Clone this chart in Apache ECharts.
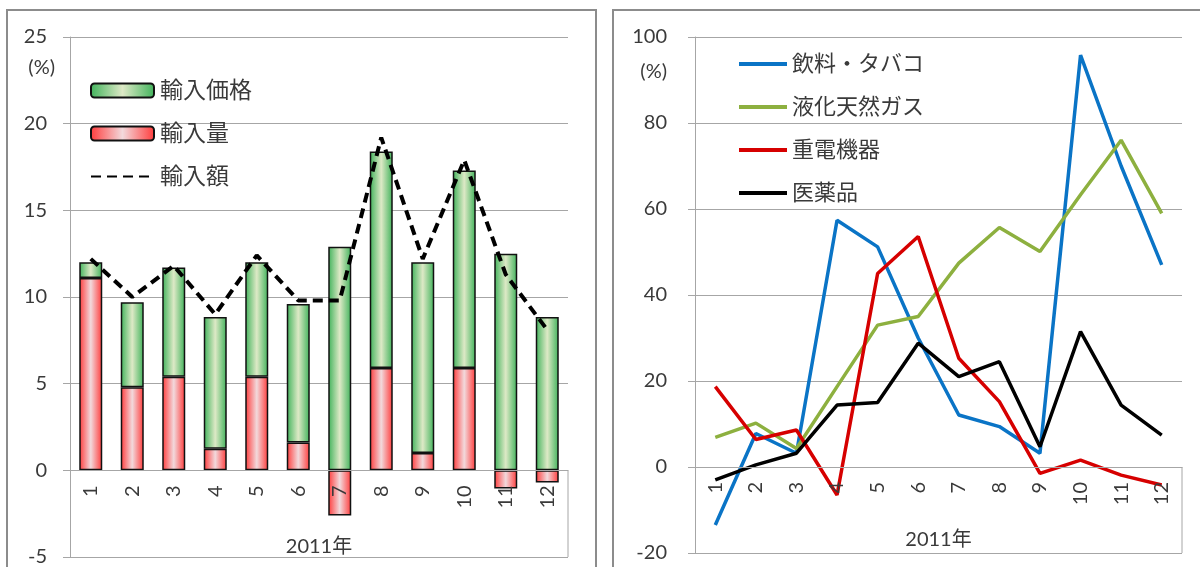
<!DOCTYPE html>
<html>
<head>
<meta charset="utf-8">
<script src="https://cdn.jsdelivr.net/npm/echarts@6/dist/echarts.min.js"></script>
<style>
  html, body { margin: 0; padding: 0; background: #fff; }
  #chart { width: 1200px; height: 567px; }
</style>
</head>
<body>
<div id="chart"></div>
<script>
// categories (months of 2011)
const months = ['1', '2', '3', '4', '5', '6', '7', '8', '9', '10', '11', '12']

// left panel: contributions to import growth (%)
const importVolume = [11.1, 4.8, 5.4, 1.25, 5.4, 1.6, -2.6, 5.9, 1.0, 5.9, -1.05, -0.7]
const importPrice = [0.9, 4.9, 6.3, 7.6, 6.6, 8.0, 12.9, 12.5, 11.0, 11.4, 12.5, 8.85]
const importValue = [12.2, 10.0, 11.8, 9.0, 12.4, 9.8, 9.8, 19.2, 12.2, 17.9, 11.3, 8.1]

// right panel: growth by item (%)
const beverageTobacco = [-13.5, 7.8, 3.2, 57.4, 51.2, 30.0, 12.1, 9.4, 3.2, 95.8, 70.0, 47.0]
const lng = [6.9, 10.2, 4.3, 18.7, 33.0, 35.0, 47.4, 55.7, 50.1, 63.3, 76.0, 59.0]
const heavyElectric = [18.7, 6.4, 8.6, -6.5, 45.0, 53.6, 25.3, 15.2, -1.5, 1.6, -1.9, -4.2]
const pharma = [-3.0, 0.5, 3.2, 14.4, 15.0, 28.8, 21.0, 24.5, 4.7, 31.5, 14.4, 7.4]

// value axis ranges
const leftRange = { min: -5, max: 25, interval: 5 }
const rightRange = { min: -20, max: 100, interval: 20 }

const FONT = "Lato, 'Noto Sans CJK JP', sans-serif"
const TEXT = '#3a3a3a'
const GRID_LINE = '#a6a6a6'
const H = 567

const leftGrid = { left: 70, right: 632, top: 37, bottom: 10, outerBoundsMode: 'none', containLabel: false }
const rightGrid = { left: 695, right: 18, top: 37, bottom: 14, outerBoundsMode: 'none', containLabel: false }

// horizontal shaded fills like the Excel bars
function barFill(edge, mid) {
  return new echarts.graphic.LinearGradient(0, 0, 1, 0, [
    { offset: 0, color: edge },
    { offset: 0.5, color: mid },
    { offset: 1, color: edge }
  ])
}
const greenFill = barFill('#3fb25a', '#dde9c6')
const redFill = barFill('#ff3a3a', '#f2d9dc')

// the month axis sits on the zero line; move it up from the bottom by hand
function zeroOffset(grid, range) {
  const h = H - grid.top - grid.bottom
  return -((0 - range.min) / (range.max - range.min)) * h
}

function catAxis(gridIndex, grid, range, gap) {
  return {
    type: 'category',
    gridIndex,
    data: months,
    z: 5,
    offset: zeroOffset(grid, range),
    name: '2011年',
    nameLocation: 'middle',
    nameGap: gap,
    nameTextStyle: { fontSize: 20, color: TEXT, verticalAlign: 'middle' },
    axisLine: { onZero: false, lineStyle: { color: GRID_LINE, width: 1 } },
    axisTick: { length: 43, lineStyle: { color: GRID_LINE } },
    axisLabel: { rotate: 90, margin: 15, fontSize: 20, color: TEXT }
  }
}

function valAxis(gridIndex, range, nameGap, namePad, labelMargin) {
  return {
    type: 'value',
    gridIndex,
    min: range.min, max: range.max, interval: range.interval,
    name: '(%)',
    nameLocation: 'end',
    nameGap,
    nameTextStyle: { fontSize: 20, color: TEXT, align: 'right', verticalAlign: 'middle', padding: [0, namePad, 0, 0] },
    axisLine: { show: true, lineStyle: { color: GRID_LINE } },
    axisTick: { show: true, length: 7, lineStyle: { color: GRID_LINE } },
    axisLabel: { fontSize: 20, color: TEXT, margin: labelMargin },
    splitLine: { lineStyle: { color: GRID_LINE, width: 1 } }
  }
}

function itemLine(name, data, color) {
  return {
    name, type: 'line', xAxisIndex: 1, yAxisIndex: 1, data,
    symbol: 'none',
    lineStyle: { color, width: 3.5 },
    itemStyle: { color, opacity: 0 }
  }
}

const chart = echarts.init(document.getElementById('chart'))

const option = {
  animation: false,
  textStyle: { fontFamily: FONT },
  grid: [leftGrid, rightGrid],
  xAxis: [catAxis(0, leftGrid, leftRange, 76), catAxis(1, rightGrid, rightRange, 73)],
  yAxis: [
    valAxis(0, leftRange, -31, 15, 23),
    valAxis(1, rightRange, -35, 28, 28)
  ],
  legend: [
    {
      orient: 'vertical', left: 90, top: 79, padding: 0,
      itemWidth: 63, itemHeight: 14, itemGap: 20,
      data: ['輸入価格', '輸入量', '輸入額'],
      textStyle: { fontSize: 23, color: TEXT, padding: [0, 0, 0, 1] }
    },
    {
      orient: 'vertical', left: 737, top: 53, padding: 0,
      itemWidth: 48, itemHeight: 14, itemGap: 21,
      data: ['飲料・タバコ', '液化天然ガス', '重電機器', '医薬品'],
      lineStyle: { width: 4 },
      textStyle: { fontSize: 22, color: TEXT, padding: [0, 0, 0, 0] }
    }
  ],
  series: [
    {
      name: '輸入量', type: 'bar', stack: 'imp', data: importVolume,
      barWidth: 23,
      itemStyle: { color: redFill, borderColor: '#111', borderWidth: 1.5 }
    },
    {
      name: '輸入価格', type: 'bar', stack: 'imp', data: importPrice,
      barWidth: 23,
      itemStyle: { color: greenFill, borderColor: '#111', borderWidth: 1.5 }
    },
    {
      name: '輸入額', type: 'line', data: importValue, z: 6,
      symbol: 'none',
      lineStyle: { color: '#000', width: 4, type: [10, 6] },
      itemStyle: { color: '#000', opacity: 0 }
    },
    itemLine('飲料・タバコ', beverageTobacco, '#0a74c6'),
    itemLine('液化天然ガス', lng, '#8db03f'),
    itemLine('重電機器', heavyElectric, '#d60000'),
    itemLine('医薬品', pharma, '#000000')
  ]
}
chart.setOption(option)

// panel frames and the right edge of each month table
function tableEdge(grid, axisIndex, bottomVal) {
  const x = chart.getWidth() - grid.right
  const y0 = chart.convertToPixel({ yAxisIndex: axisIndex }, 0)
  const y1 = chart.convertToPixel({ yAxisIndex: axisIndex }, bottomVal)
  return { type: 'line', shape: { x1: x, y1: y0, x2: x, y2: y1 }, style: { stroke: GRID_LINE, lineWidth: 1 } }
}
chart.setOption({
  graphic: [
    { type: 'rect', shape: { x: 7, y: 10, width: 589, height: 570 }, style: { fill: 'none', stroke: '#8c8c8c', lineWidth: 2 }, z: -1 },
    { type: 'rect', shape: { x: 613, y: 10, width: 600, height: 570 }, style: { fill: 'none', stroke: '#8c8c8c', lineWidth: 2 }, z: -1 },
    tableEdge(leftGrid, 0, leftRange.min),
    tableEdge(rightGrid, 1, rightRange.min)
  ]
})
</script>
</body>
</html>
